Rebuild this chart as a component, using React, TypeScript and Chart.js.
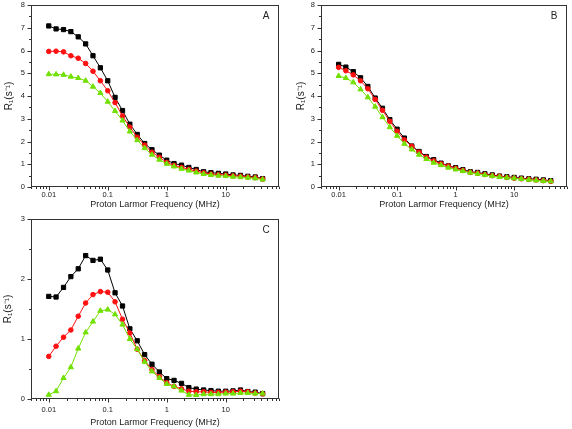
import React, { useEffect, useRef } from 'react';
import { Chart, registerables } from 'chart.js';
Chart.register(...registerables);

const FONT = "'Liberation Sans', Arial, Helvetica, sans-serif";

// Proton Larmor frequency (MHz)
const freqMHz = [0.01, 0.0133, 0.0178, 0.0237, 0.0316, 0.0422, 0.0562, 0.075, 0.1, 0.133, 0.178, 0.237, 0.316, 0.422, 0.562, 0.75, 1, 1.33, 1.78, 2.37, 3.16, 4.22, 5.62, 7.5, 10, 13.3, 17.8, 23.7, 31.6, 42.2];

// Panel A
const aBlack = [7.08, 6.95, 6.92, 6.83, 6.60, 6.29, 5.77, 5.24, 4.67, 3.94, 3.36, 2.76, 2.31, 1.91, 1.64, 1.40, 1.18, 1.03, 0.96, 0.86, 0.77, 0.67, 0.63, 0.60, 0.57, 0.53, 0.51, 0.47, 0.44, 0.37];
const aRed = [5.96, 5.97, 5.94, 5.77, 5.66, 5.43, 5.09, 4.67, 4.23, 3.71, 3.12, 2.63, 2.19, 1.84, 1.53, 1.31, 1.08, 0.95, 0.86, 0.78, 0.70, 0.62, 0.57, 0.54, 0.52, 0.49, 0.47, 0.44, 0.41, 0.35];
const aGreen = [4.96, 4.95, 4.93, 4.85, 4.79, 4.67, 4.41, 4.13, 3.75, 3.34, 2.92, 2.44, 2.06, 1.71, 1.42, 1.20, 1.02, 0.90, 0.80, 0.72, 0.64, 0.57, 0.53, 0.50, 0.48, 0.45, 0.43, 0.41, 0.38, 0.33];

// Panel B
const bBlack = [5.39, 5.27, 5.07, 4.80, 4.42, 3.91, 3.46, 2.96, 2.54, 2.15, 1.80, 1.56, 1.34, 1.20, 1.05, 0.93, 0.85, 0.76, 0.67, 0.64, 0.58, 0.53, 0.48, 0.45, 0.42, 0.39, 0.36, 0.34, 0.31, 0.28];
const bRed = [5.26, 5.11, 4.93, 4.67, 4.32, 3.85, 3.37, 2.89, 2.45, 2.07, 1.79, 1.53, 1.31, 1.15, 1.02, 0.92, 0.82, 0.73, 0.64, 0.61, 0.55, 0.50, 0.47, 0.42, 0.39, 0.36, 0.34, 0.31, 0.28, 0.25];
const bGreen = [4.88, 4.79, 4.60, 4.29, 3.94, 3.53, 3.07, 2.63, 2.25, 1.90, 1.65, 1.42, 1.23, 1.07, 0.96, 0.85, 0.77, 0.70, 0.63, 0.58, 0.53, 0.48, 0.44, 0.41, 0.38, 0.35, 0.32, 0.29, 0.26, 0.25];

// Panel C
const cBlack = [1.71, 1.70, 1.86, 2.04, 2.17, 2.39, 2.31, 2.33, 2.15, 1.77, 1.55, 1.17, 0.97, 0.74, 0.58, 0.45, 0.34, 0.31, 0.26, 0.19, 0.165, 0.15, 0.14, 0.13, 0.13, 0.135, 0.15, 0.125, 0.115, 0.09];
const cRed = [0.71, 0.88, 1.03, 1.15, 1.38, 1.60, 1.74, 1.79, 1.78, 1.62, 1.33, 1.10, 0.83, 0.64, 0.49, 0.37, 0.27, 0.21, 0.17, 0.13, 0.12, 0.12, 0.11, 0.11, 0.115, 0.12, 0.13, 0.12, 0.10, 0.085];
const cGreen = [0.07, 0.13, 0.35, 0.53, 0.84, 1.11, 1.29, 1.47, 1.49, 1.41, 1.24, 1.00, 0.83, 0.62, 0.46, 0.35, 0.25, 0.21, 0.14, 0.07, 0.066, 0.08, 0.08, 0.08, 0.09, 0.09, 0.10, 0.10, 0.09, 0.09];

const xTickValues = [0.01, 0.1, 1, 10];
const xTickLabels = ['0.01', '0.1', '1', '10'];
const xTitle = 'Proton Larmor Frequency (MHz)';
const yTitle = 'R\u2081(s\u207B\u00B9)';

const X_MIN = 0.005;
const X_MAX = 80;

const BLACK = '#000000';
const RED = '#ff1010';
const GREEN = '#72e000';

function xMarks() {
  const out: [number, boolean][] = [];
  for (let e = -3; e <= 1; e++) {
    for (let m = 1; m <= 9; m++) {
      const v = m * Math.pow(10, e);
      if (v >= X_MIN * 0.999 && v <= X_MAX * 1.001) out.push([v, m === 1]);
    }
  }
  return out;
}

function framePlugin(letter: string, yMax: number) {
  return {
    id: 'frame',
    afterDatasetsDraw(chart: any) {
      const { ctx, chartArea: a } = chart;
      const xs = chart.scales.x;
      const ys = chart.scales.y;
      ctx.save();
      ctx.strokeStyle = '#333';
      ctx.lineWidth = 1;
      const L = Math.round(a.left) + 0.5;
      const R = Math.round(a.right) - 0.5;
      const T = Math.round(a.top) + 0.5;
      const B = Math.round(a.bottom) - 0.5;
      ctx.strokeRect(L, T, R - L, B - T);
      ctx.beginPath();
      for (const [v, major] of xMarks()) {
        const p = Math.round(xs.getPixelForValue(v)) + 0.5;
        ctx.moveTo(p, B);
        ctx.lineTo(p, B + (major ? 4 : 2.5));
      }
      for (let k = 0; k <= yMax * 2; k++) {
        const v = k / 2;
        const p = Math.round(ys.getPixelForValue(v)) + 0.5;
        ctx.moveTo(L, p);
        ctx.lineTo(L - (k % 2 === 0 ? 4 : 2.5), p);
      }
      ctx.stroke();
      ctx.fillStyle = '#222';
      ctx.font = `10px ${FONT}`;
      ctx.textAlign = 'center';
      ctx.textBaseline = 'middle';
      ctx.fillText(letter, a.right - 13, a.top + 11);
      ctx.restore();
    },
  };
}

type PanelProps = {
  left: number; top: number; width: number; height: number;
  padTop: number; padRight: number; xAxisH: number;
  xTickPad: number; xTitlePadBottom: number; yTitlePad: number;
  yMax: number; letter: string;
  black: number[]; red: number[]; green: number[];
};

function Panel(p: PanelProps) {
  const ref = useRef<HTMLCanvasElement>(null);
  useEffect(() => {
    const mk = (vals: number[]) => freqMHz.map((f, i) => ({ x: f, y: vals[i] }));
    const yTicks: number[] = [];
    for (let v = 0; v <= p.yMax; v++) yTicks.push(v);
    const chart = new Chart(ref.current as HTMLCanvasElement, {
      type: 'line',
      data: {
        datasets: [
          { data: mk(p.black), borderColor: BLACK, backgroundColor: BLACK, pointStyle: 'rect', pointRadius: 3.0, borderWidth: 1, pointBorderWidth: 1, order: 2 },
          { data: mk(p.red), borderColor: RED, backgroundColor: RED, pointStyle: 'circle', pointRadius: 2.3, borderWidth: 1, pointBorderWidth: 1, order: 1 },
          { data: mk(p.green), borderColor: GREEN, backgroundColor: GREEN, pointStyle: 'triangle', pointRadius: 3.0, borderWidth: 1, pointBorderWidth: 1, order: 0 },
        ],
      },
      options: {
        animation: false,
        responsive: false,
        devicePixelRatio: 1,
        layout: { padding: { top: p.padTop, right: p.padRight, left: 0, bottom: 0 } },
        plugins: { legend: { display: false }, tooltip: { enabled: false } },
        elements: { line: { tension: 0 } },
        scales: {
          x: {
            type: 'logarithmic',
            min: X_MIN,
            max: X_MAX,
            grid: { display: false, drawTicks: false, tickLength: 0 },
            border: { display: false },
            afterBuildTicks: (s: any) => { s.ticks = xTickValues.map((v) => ({ value: v })); },
            ticks: {
              autoSkip: false, maxRotation: 0, minRotation: 0, padding: p.xTickPad, color: '#222',
              font: { family: FONT, size: 7.5 },
              callback: (_v: any, i: number) => xTickLabels[i],
            },
            title: { display: true, text: xTitle, color: '#222', font: { family: FONT, size: 9 }, padding: { top: 0, bottom: p.xTitlePadBottom } },
            afterFit: (s: any) => { s.height = p.xAxisH; s.paddingLeft = 0; s.paddingRight = 0; },
          },
          y: {
            min: 0,
            max: p.yMax,
            grid: { display: false, drawTicks: false, tickLength: 0 },
            border: { display: false },
            afterBuildTicks: (s: any) => { s.ticks = yTicks.map((v) => ({ value: v })); },
            ticks: { padding: 6, color: '#222', font: { family: FONT, size: 7.5 }, callback: (v: any) => String(v) },
            title: { display: true, text: yTitle, color: '#222', font: { family: FONT, size: 10 }, padding: { top: p.yTitlePad, bottom: 0 } },
            afterFit: (s: any) => { s.width = 31; s.paddingTop = 0; s.paddingBottom = 0; },
          },
        },
      } as any,
      plugins: [framePlugin(p.letter, p.yMax)],
    } as any);
    return () => chart.destroy();
  }, []);
  return (
    <canvas
      ref={ref}
      width={p.width}
      height={p.height}
      style={{ position: 'absolute', left: p.left, top: p.top, width: p.width, height: p.height }}
    />
  );
}

export default function App() {
  return (
    <div style={{ position: 'absolute', left: 0, top: 0, width: 572, height: 429, background: '#fff', overflow: 'hidden' }}>
      <Panel left={0} top={0} width={290} height={214} padTop={4} padRight={11} xAxisH={27}
        xTickPad={3} xTitlePadBottom={4} yTitlePad={3} yMax={8} letter="A"
        black={aBlack} red={aRed} green={aGreen} />
      <Panel left={290} top={0} width={282} height={214} padTop={4} padRight={3} xAxisH={27}
        xTickPad={3} xTitlePadBottom={4} yTitlePad={5} yMax={8} letter="B"
        black={bBlack} red={bRed} green={bGreen} />
      <Panel left={0} top={214} width={290} height={215} padTop={3} padRight={11} xAxisH={30}
        xTickPad={6} xTitlePadBottom={1} yTitlePad={2.5} yMax={3} letter="C"
        black={cBlack} red={cRed} green={cGreen} />
    </div>
  );
}
